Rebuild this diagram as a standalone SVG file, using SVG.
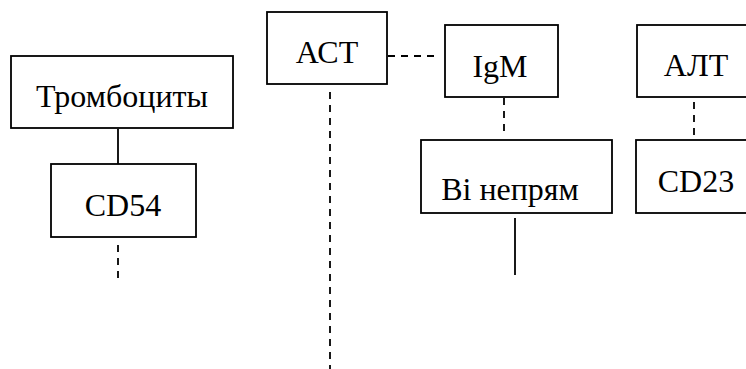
<svg xmlns="http://www.w3.org/2000/svg" width="746" height="369" viewBox="0 0 746 369">
<style>
.box{fill:#fff;stroke:#000;stroke-width:1.8}
.t{font-family:"Liberation Serif","Times New Roman",serif;font-size:32px;fill:#000;text-anchor:middle}
.solid{stroke:#000;stroke-width:1.8;fill:none}
.dash{stroke:#000;stroke-width:1.8;fill:none;stroke-dasharray:7 6}
</style>
<rect width="746" height="369" fill="#fff"/>
<g id="connectors">
<line class="solid" x1="118" y1="129" x2="118" y2="164"/>
<line class="dash" x1="118" y1="245" x2="118" y2="281"/>
<line class="dash" x1="388" y1="56" x2="437" y2="56"/>
<line class="dash" x1="330" y1="92" x2="330" y2="369"/>
<line class="dash" x1="504" y1="98" x2="504" y2="134"/>
<line class="solid" x1="515" y1="218" x2="515" y2="275"/>
<line class="dash" x1="694" y1="102" x2="694" y2="138"/>
</g>
<g id="trombocyty"><rect class="box" x="11" y="56" width="222" height="72"/><text class="t" x="122" y="107">Тромбоциты</text></g>
<g id="cd54"><rect class="box" x="51" y="164" width="145" height="73"/><text class="t" x="123" y="216">CD54</text></g>
<g id="ast"><rect class="box" x="267" y="12" width="120" height="72"/><text class="t" x="327" y="63">АСТ</text></g>
<g id="igm"><rect class="box" x="445" y="25" width="113" height="72"/><text class="t" x="500" y="77">IgM</text></g>
<g id="bi"><rect class="box" x="421" y="140" width="191" height="73"/><text class="t" x="510" y="200">Ві непрям</text></g>
<g id="alt"><rect class="box" x="637" y="25" width="120" height="72"/><text class="t" x="696" y="76">АЛТ</text></g>
<g id="cd23"><rect class="box" x="636" y="140" width="121" height="73"/><text class="t" x="696" y="192">CD23</text></g>
</svg>
